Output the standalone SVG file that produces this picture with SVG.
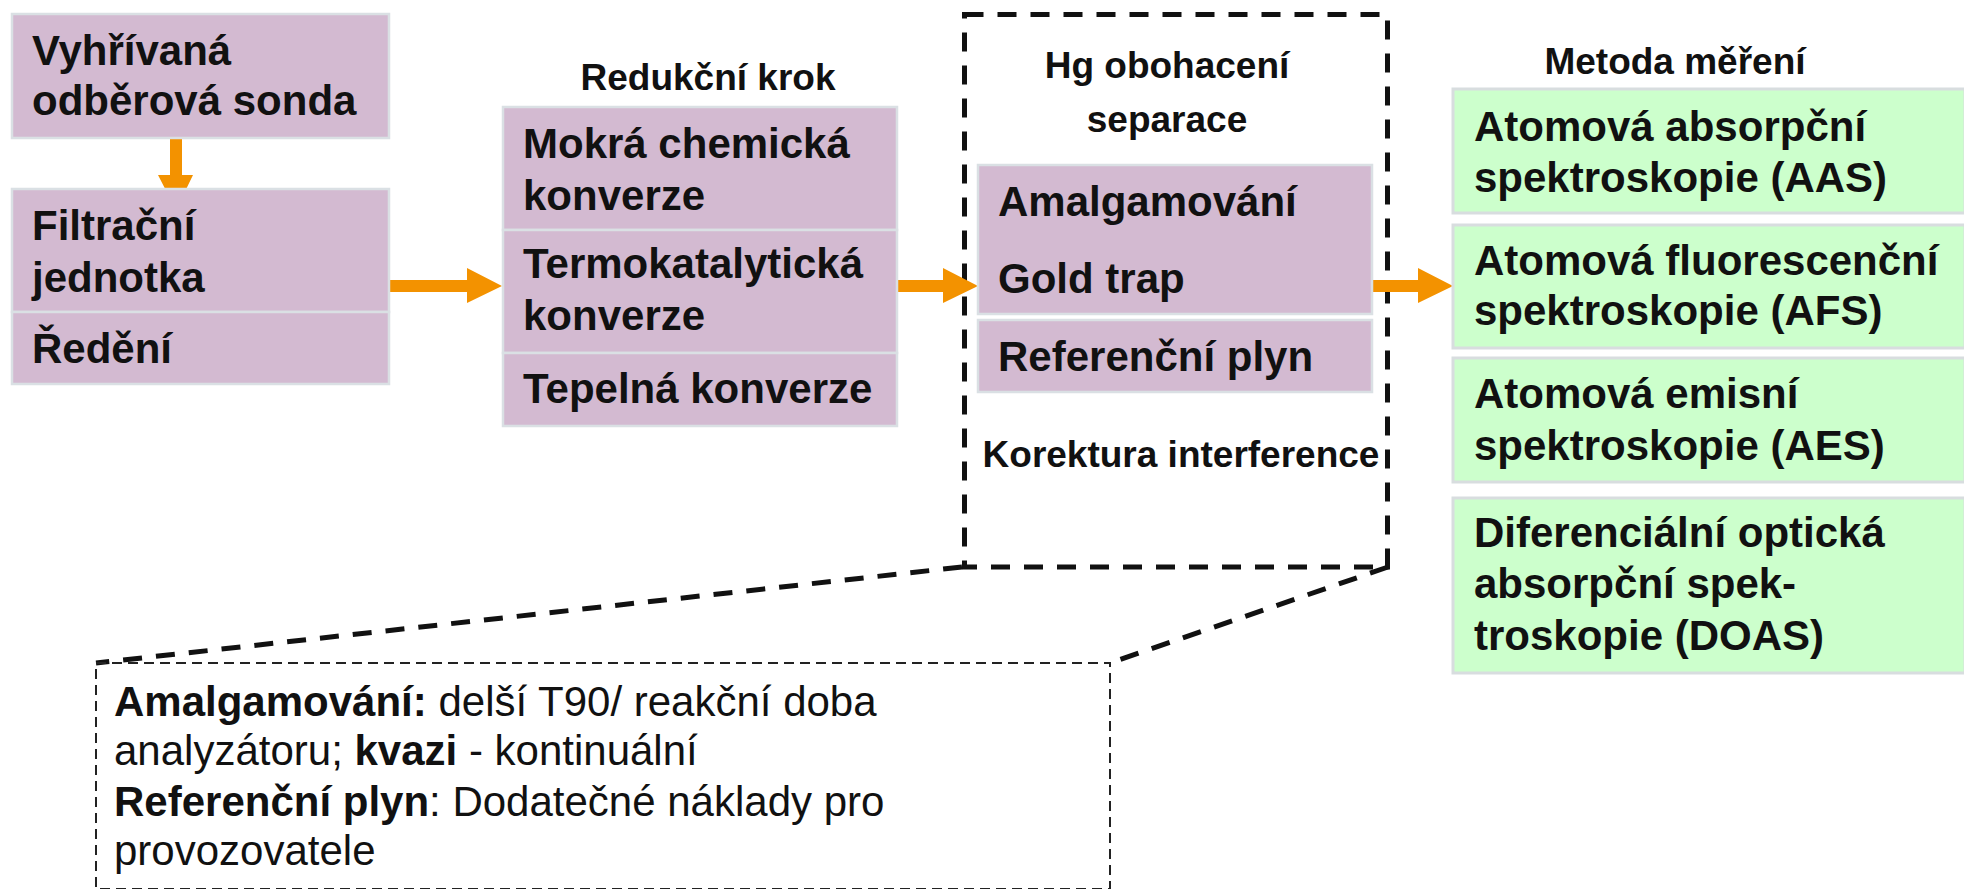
<svg xmlns="http://www.w3.org/2000/svg" width="1964" height="889" viewBox="0 0 1964 889">
<style>
.p{fill:#D3BAD1;stroke:#DAE0E4;stroke-width:2.5}
.g{fill:#CCFFCC;stroke:#D8DDDF;stroke-width:3}
.t{font-family:"Liberation Sans",Arial,sans-serif;font-weight:bold;font-size:42px;fill:#111}
.h{font-family:"Liberation Sans",Arial,sans-serif;font-weight:bold;font-size:37px;fill:#111;text-anchor:middle}
.n{font-family:"Liberation Sans",Arial,sans-serif;font-size:42px;fill:#111}
.a{fill:#F39200}
.dk{fill:none;stroke:#111;stroke-width:5;stroke-dasharray:19 14}
.dt{fill:none;stroke:#222;stroke-width:2;stroke-dasharray:10 6}
</style>
<rect width="1964" height="889" fill="#fff"/>
<g id="hg-frame">
<rect class="dk" x="964.5" y="14.5" width="423" height="552.5"/>
</g>
<g id="connectors">
<polygon class="a" points="170,135 182,135 182,175 193,175 176,210 158,175 170,175"/>
<polygon class="a" points="389,280 467,280 467,268 502,286 467,303 467,292 389,292"/>
<polygon class="a" points="897,280 943,280 943,268 978,286 943,303 943,292 897,292"/>
<polygon class="a" points="1372,280 1418,280 1418,268 1453,286 1418,303 1418,292 1372,292"/>
<line class="dk" x1="962" y1="567" x2="96" y2="663"/>
<line class="dk" x1="1388" y1="567" x2="1110" y2="663"/>
</g>
<g id="sonda">
<rect class="p" x="12" y="14" width="377" height="124"/>
<text class="t" x="32" y="65">Vyhřívaná</text>
<text class="t" x="32" y="115">odběrová sonda</text>
</g>
<g id="filtrace">
<rect class="p" x="12" y="189" width="377" height="123"/>
<text class="t" x="32" y="240">Filtrační</text>
<text class="t" x="32" y="292">jednotka</text>
</g>
<g id="redeni">
<rect class="p" x="12" y="312" width="377" height="72"/>
<text class="t" x="32" y="363">Ředění</text>
</g>
<g id="redukce">
<text class="h" x="708" y="90">Redukční krok</text>
<rect class="p" x="503" y="107" width="394" height="123"/>
<text class="t" x="523" y="158">Mokrá chemická</text>
<text class="t" x="523" y="210">konverze</text>
<rect class="p" x="503" y="230" width="394" height="123"/>
<text class="t" x="523" y="278">Termokatalytická</text>
<text class="t" x="523" y="330">konverze</text>
<rect class="p" x="503" y="353" width="394" height="73"/>
<text class="t" x="523" y="403">Tepelná konverze</text>
</g>
<g id="obohaceni">
<text class="h" x="1167" y="78">Hg obohacení</text>
<text class="h" x="1167" y="132">separace</text>
<rect class="p" x="978" y="165" width="394" height="149"/>
<text class="t" x="998" y="216">Amalgamování</text>
<text class="t" x="998" y="293">Gold trap</text>
<rect class="p" x="978" y="320" width="394" height="72"/>
<text class="t" x="998" y="371">Referenční plyn</text>
<text class="h" x="1181" y="467">Korektura interference</text>
</g>
<g id="metody">
<text class="h" x="1675" y="74">Metoda měření</text>
<rect class="g" x="1453" y="89" width="512" height="124"/>
<text class="t" x="1474" y="141">Atomová absorpční</text>
<text class="t" x="1474" y="192">spektroskopie (AAS)</text>
<rect class="g" x="1453" y="225" width="512" height="123"/>
<text class="t" x="1474" y="275">Atomová fluorescenční</text>
<text class="t" x="1474" y="325">spektroskopie (AFS)</text>
<rect class="g" x="1453" y="358" width="512" height="124"/>
<text class="t" x="1474" y="408">Atomová emisní</text>
<text class="t" x="1474" y="460">spektroskopie (AES)</text>
<rect class="g" x="1453" y="498" width="512" height="175"/>
<text class="t" x="1474" y="547">Diferenciální optická</text>
<text class="t" x="1474" y="598">absorpční spek-</text>
<text class="t" x="1474" y="650">troskopie (DOAS)</text>
</g>
<g id="poznamka">
<rect class="dt" x="96" y="663" width="1014" height="226"/>
<text class="n" x="114" y="716"><tspan font-weight="bold">Amalgamování:</tspan> delší T90/ reakční doba</text>
<text class="n" x="114" y="765">analyzátoru; <tspan font-weight="bold">kvazi</tspan> - kontinuální</text>
<text class="n" x="114" y="816"><tspan font-weight="bold">Referenční plyn</tspan>: Dodatečné náklady pro</text>
<text class="n" x="114" y="865">provozovatele</text>
</g>
</svg>
